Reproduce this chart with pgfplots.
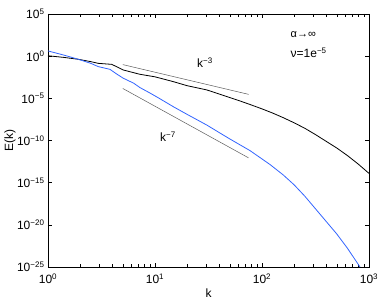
\documentclass[border=0pt]{standalone}
\usepackage{fontspec}
\setmainfont{Liberation Sans}
\usepackage{pgfplots}
\pgfplotsset{compat=1.18}
\definecolor{myblue}{RGB}{50,100,255}
\definecolor{refgray}{RGB}{90,90,90}
\newcommand{\tl}[1]{10\textsuperscript{#1}}
\begin{document}
\begin{tikzpicture}
\useasboundingbox (-48pt,-35pt) rectangle ++(382pt,302pt);
\begin{axis}[
  at={(0,0)}, anchor=south west,
  xmode=log, ymode=log,
  scale only axis, width=321pt, height=253pt,
  xmin=1, xmax=1000, ymin=1e-25, ymax=1e5,
  xtick={1,10,100,1000},
  xticklabels={\tl{0},\tl{1},\tl{2},\tl{3}},
  ytick={1e-25,1e-20,1e-15,1e-10,1e-5,1,1e5},
  yticklabels={\tl{−25},\tl{−20},\tl{−15},\tl{−10},\tl{−5},\tl{0},\tl{5}},
  yminorticks=false,
  tick label style={font=\fontsize{12}{14}\selectfont},
  xticklabel style={yshift=-3pt},
  label style={font=\fontsize{12}{14}\selectfont},
  axis line style={line width=0.6pt},
  tick style={line width=0.5pt, black},
  xlabel={k}, ylabel={E(k)},
  xlabel style={at={(axis description cs:0.5,-0.103)},anchor=center},
  ylabel style={at={(axis description cs:-0.118,0.5)},anchor=center},
]
\addplot[black, line width=0.8pt] coordinates {
(1,1.12) (1.413,0.708) (1.919,0.427) (2.512,0.224) (2.951,0.141) (3.936,0.107)
(4.467,0.0501) (5.058,0.0229) (6.501,0.0100) (7.244,7.08e-3) (10,3.55e-3)
(14.83,9.55e-4) (19.95,3.16e-4) (30.41,1e-4) (44.67,2.0e-5) (62.23,4.9e-6)
(77.27,1.86e-6) (100,5.62e-7) (125.9,1.78e-7) (158.5,5.01e-8) (199.5,1.26e-8)
(251.2,2.82e-9) (316.2,5.01e-10) (398.1,7.94e-11) (501.2,1.26e-11)
(631.0,1.58e-12) (794.3,1.58e-13) (1000,1.26e-14)
};
\addplot[myblue, line width=0.8pt] coordinates {
(1,4.17) (1.413,1.32) (1.919,0.427) (2.512,0.141) (2.951,0.0575) (3.793,0.0275)
(4.365,7.94e-3) (5.058,2.40e-3) (6.310,6.31e-4) (7.244,1.86e-4) (8.913,4.47e-5)
(10.72,1.17e-5) (14.83,1.02e-6) (19.95,1.26e-7) (30.41,6.92e-9) (43.45,4.47e-10)
(50.12,1.51e-10) (77.27,6.31e-12) (118.9,1.41e-13) (158.5,7.94e-15)
(199.5,5.62e-16) (251.2,2.51e-17) (316.2,7.94e-19) (398.1,2.51e-20)
(501.2,7.94e-22) (631.0,1.58e-23) (824.1,1e-25)
};
\addplot[refgray, line width=0.5pt] coordinates {(5,0.1) (75,2.96e-5)};
\addplot[refgray, line width=0.5pt] coordinates {(5,1.48e-4) (75,8.66e-13)};
\node[font=\fontsize{12}{14}\selectfont] at (axis cs:29.3,0.155) {k\textsuperscript{−3}};
\node[font=\fontsize{12}{14}\selectfont] at (axis cs:13.2,2.6e-10) {k\textsuperscript{−7}};
\node[font=\fontsize{11}{13}\selectfont, anchor=west] at (axis description cs:0.745,0.917) {α→∞};
\node[font=\fontsize{12}{14}\selectfont, anchor=west] at (axis description cs:0.745,0.846) {ν=1e\textsuperscript{−5}};
\end{axis}
\end{tikzpicture}
\end{document}
